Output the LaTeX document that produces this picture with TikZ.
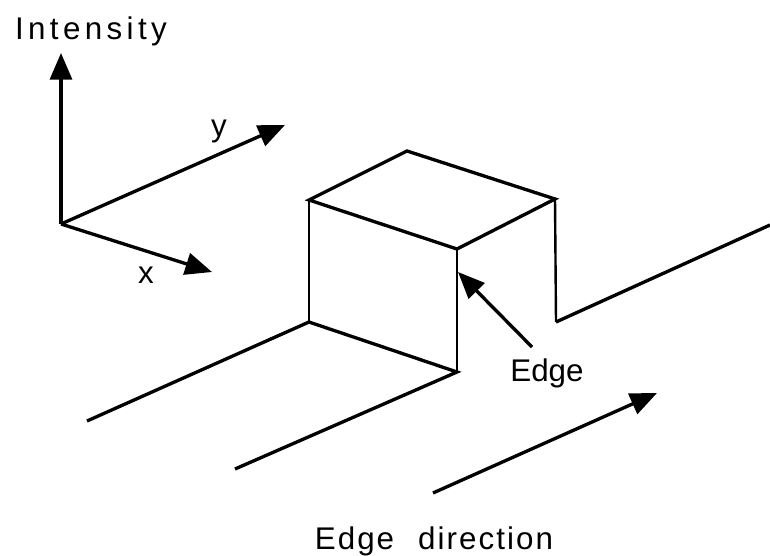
\documentclass[tikz,border=0pt]{standalone}
\usepackage{fontspec}
\setmainfont{Liberation Sans}
\usetikzlibrary{positioning,arrows.meta}
\tikzset{edgeline/.style={line width=2.5pt},
    thinline/.style={line width=1.8pt},
    axis/.style={line width=2.5pt,-{Triangle[length=20pt,width=16.5pt]}},
    label/.style={font=\fontsize{23.5pt}{26pt}\selectfont,inner sep=0pt,anchor=base}
}
\begin{document}
\begin{tikzpicture}[x=0.75pt,y=-0.75pt]
    \useasboundingbox (0,0) rectangle (770,556);

    \coordinate (origin) at (61,224);
    \coordinate (zend) at (61,53);
    \coordinate (yend) at (285,125);
    \coordinate (xend) at (212,272);

    \node [label] (intensity) at (91,40) {\addfontfeatures{LetterSpace=14}Intensity};
    \node [label] (ylabel) at (219,137) {y};
    \node [label] (xlabel) at (146,283) {x};
    \node [label] (edgelabel) at (547,381) {Edge};
    \node [label] (direction) at (434,549) {\addfontfeatures{LetterSpace=6.6}Edge\hspace{18pt}direction};

    \draw [axis] (origin) -- (zend);
    \draw [axis] (origin) -- (yend);
    \draw [axis] (origin) -- (xend);

    \coordinate (topback) at (407,151);
    \coordinate (topleft) at (309,200);
    \coordinate (topright) at (555,199);
    \coordinate (topfront) at (457,249);
    \coordinate (baseleft) at (309,322);
    \coordinate (basefront) at (457,372);
    \coordinate (baseright) at (556,322);
    \coordinate (farleft) at (87,421);
    \coordinate (farfront) at (235,469);
    \coordinate (farright) at (770,225);

    \draw [edgeline] (topleft) -- (topback) -- (topright) -- (topfront) -- cycle;
    \draw [thinline] (topleft) -- (baseleft);
    \draw [thinline] (topfront) -- (basefront);
    \draw [thinline] (topright) -- (baseright);
    \draw [edgeline] (farleft) -- (baseleft) -- (basefront) -- (farfront);
    \draw [edgeline] (baseright) -- (farright);

    \coordinate (edgetail) at (532,347);
    \coordinate (edgetip) at (458,272);
    \draw [axis] (edgetail) -- (edgetip);

    \coordinate (dirtail) at (433,493);
    \coordinate (dirtip) at (657,393);
    \draw [axis] (dirtail) -- (dirtip);
\end{tikzpicture}
\end{document}
